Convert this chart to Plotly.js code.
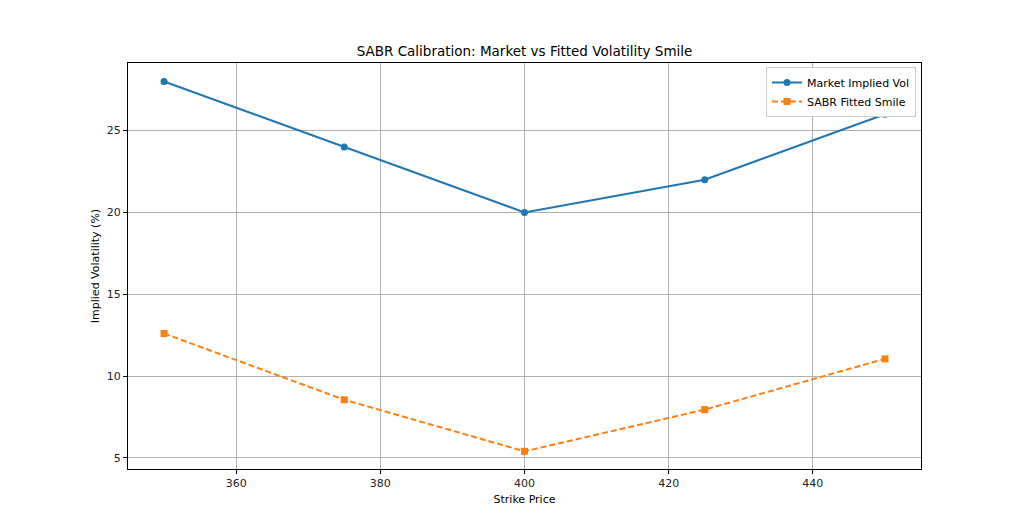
<!DOCTYPE html>
<html>
<head>
<meta charset="utf-8">
<script src="https://cdn.plot.ly/plotly-3.0.1.min.js"></script>
<style>
  html, body { margin: 0; padding: 0; background: white; }
  #graphe { width: 1024px; height: 528px; }
</style>
</head>
<body>
<div id="graphe"></div>
<script>
// strikes and vols (in %)
let strikes = [350, 375, 400, 425, 450]
let vol_marche = [28, 24, 20, 22, 26]
let vol_sabr = [12.6, 8.55, 5.4, 7.95, 11.05]

let police = "DejaVu Sans, sans-serif"

let trace_marche = {
    x: strikes, y: vol_marche, mode: "lines+markers", type: "scatter",
    name: "Market Implied Vol",
    line: {width: 2, color: "#1f77b4"},
    marker: {size: 7, symbol: "circle", color: "#1f77b4"}
}
let trace_sabr = {
    x: strikes, y: vol_sabr, mode: "lines+markers", type: "scatter",
    name: "SABR Fitted Smile",
    line: {width: 2, color: "#ff7f0e", dash: "6px,3px"},
    marker: {size: 7, symbol: "square", color: "#ff7f0e"}
}

let axe = {
    showline: true, mirror: true, linecolor: "black", linewidth: 1,
    ticks: "outside", ticklen: 4, tickcolor: "black",
    showgrid: true, gridcolor: "#b0b0b0", gridwidth: 1,
    zeroline: false,
    tickfont: {family: police, size: 11, color: "#222"}
}

let layout = {
    title: {
        text: "SABR Calibration: Market vs Fitted Volatility Smile",
        font: {family: police, size: 13.5, color: "black"},
        xref: "paper", x: 0.5, xanchor: "center", y: 1 - 51/528, yanchor: "middle"
    },
    xaxis: Object.assign({}, axe, {
        range: [345, 455], dtick: 20, tick0: 360,
        title: {text: "Strike Price", font: {family: police, size: 11, color: "black"}, standoff: 6}
    }),
    yaxis: Object.assign({}, axe, {
        range: [4.32, 29.13], dtick: 5, tick0: 5,
        title: {text: "Implied Volatility (%)", font: {family: police, size: 11, color: "black"}, standoff: 4}
    }),
    showlegend: true,
    legend: {
        x: 1 - 5/793, y: 1 - 4/406, xanchor: "right", yanchor: "top",
        bgcolor: "white", bordercolor: "#cccccc", borderwidth: 1,
        font: {family: police, size: 11, color: "black"},
        tracegroupgap: 0
    },
    plot_bgcolor: "white",
    paper_bgcolor: "white",
    margin: {l: 128, r: 103, t: 63, b: 59, pad: 0},
    width: 1024,
    height: 528
}

Plotly.newPlot("graphe", [trace_marche, trace_sabr], layout, {staticPlot: true})
</script>
</body>
</html>
